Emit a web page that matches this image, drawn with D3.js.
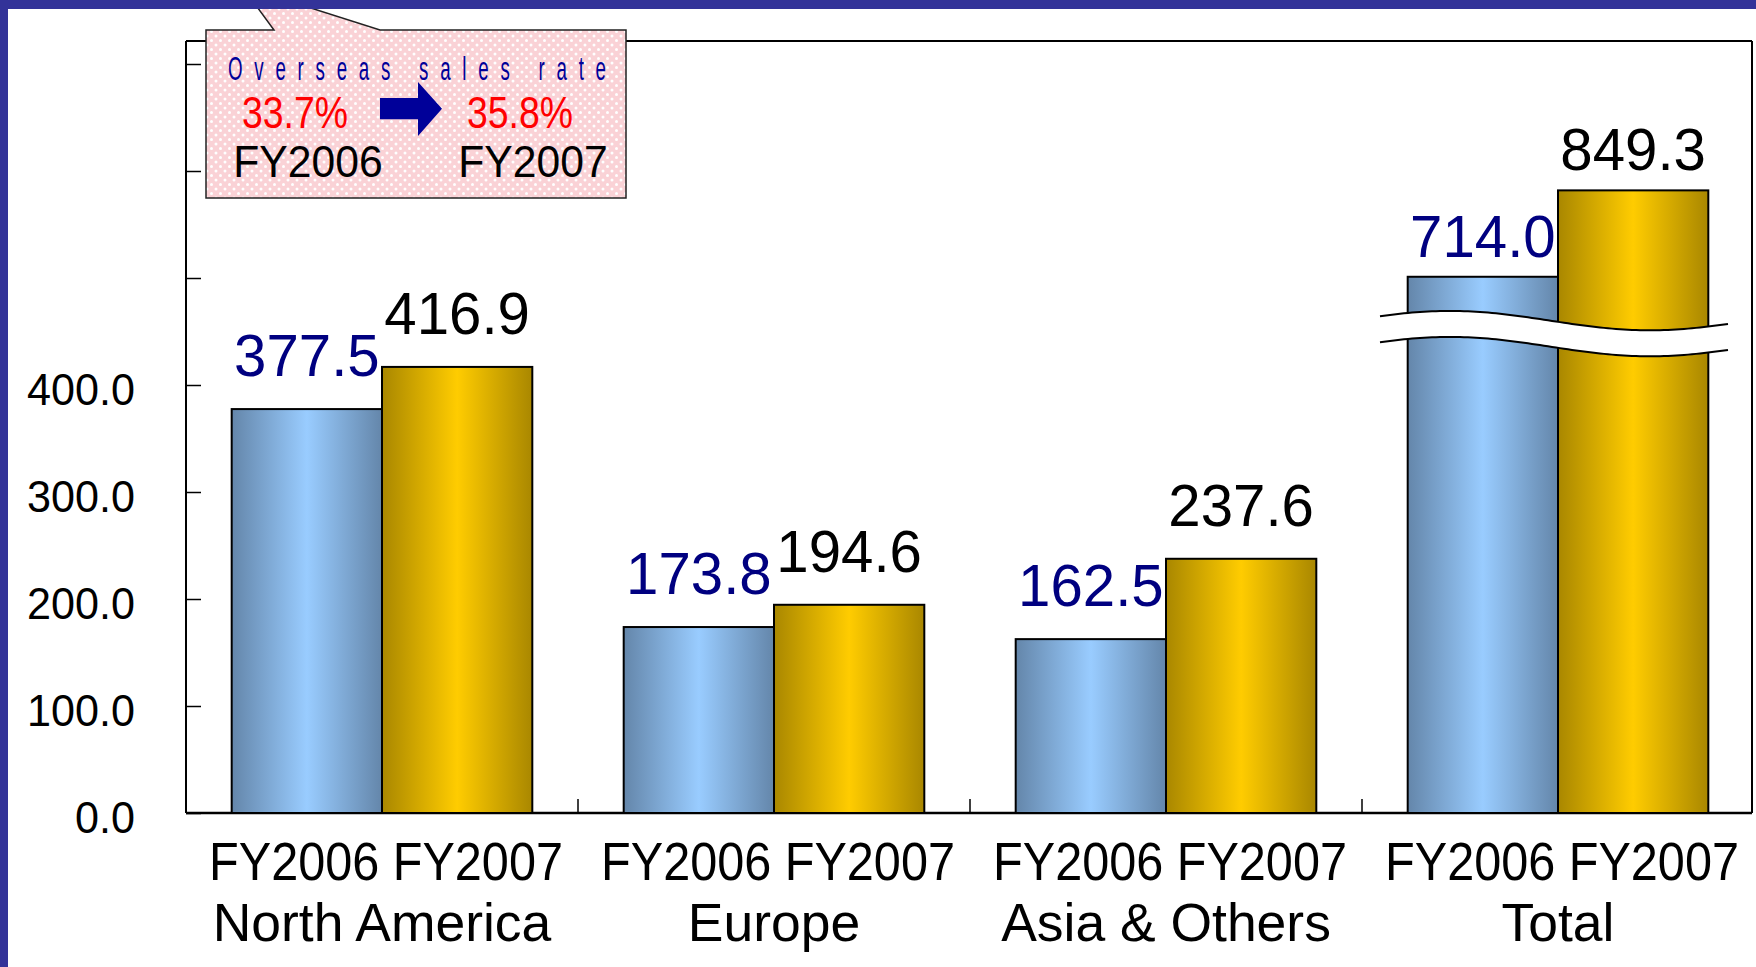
<!DOCTYPE html>
<html>
<head>
<meta charset="utf-8">
<script src="https://cdn.jsdelivr.net/npm/d3@7/dist/d3.min.js"></script>
<style>
  html, body { margin: 0; padding: 0; background: #ffffff; }
  svg { display: block; font-family: "Liberation Sans", Arial, sans-serif; }
</style>
</head>
<body>
<svg id="chart" width="1756" height="967"></svg>
<script>
// ---------------- data ----------------
const categories = ["North America", "Europe", "Asia & Others", "Total"];
const seriesNames = ["FY2006", "FY2007"];
const fy2006 = [377.5, 173.8, 162.5, 714.0];
const fy2007 = [416.9, 194.6, 237.6, 849.3];
const yTickValues = [0, 100, 200, 300, 400, 500, 600, 700];
const yTickLabels = ["0.0", "100.0", "200.0", "300.0", "400.0", "", "", ""];
const brokenCategory = "Total";
const calloutTitle = "Overseas sales rate";
const calloutRates = ["33.7%", "35.8%"];
const calloutYears = ["FY2006", "FY2007"];

// ---------------- layout ----------------
const W = 1756, H = 967;
const plot = { left: 186, right: 1754, top: 41, bottom: 813 };

const svg = d3.select("#chart");
const defs = svg.append("defs");

function grad(id, edge, mid) {
  const g = defs.append("linearGradient").attr("id", id)
    .attr("x1", "0").attr("x2", "1").attr("y1", "0").attr("y2", "0");
  g.append("stop").attr("offset", "0").attr("stop-color", edge);
  g.append("stop").attr("offset", "0.5").attr("stop-color", mid);
  g.append("stop").attr("offset", "1").attr("stop-color", edge);
}
grad("gBlue", "#6486aa", "#99ccff");
grad("gGold", "#a98700", "#ffcc00");

// callout pattern
const pat = defs.append("pattern").attr("id", "pinkPat")
  .attr("patternUnits", "userSpaceOnUse").attr("width", 9).attr("height", 9);
pat.append("rect").attr("width", 9).attr("height", 9).attr("fill", "#fad2d6");
[[0, 0], [9, 0], [0, 9], [9, 9], [4.5, 4.5]].forEach(([cx, cy]) =>
  pat.append("circle").attr("cx", cx).attr("cy", cy).attr("r", 1.5).attr("fill", "#ffffff"));

svg.append("rect").attr("width", W).attr("height", H).attr("fill", "#ffffff");

// ---------------- scales ----------------
const x0 = d3.scaleBand().domain(categories).range([plot.left, plot.right]).padding(0);
const x1 = d3.scaleBand().domain(seriesNames).range([0, x0.bandwidth()])
  .paddingInner(0).paddingOuter(0.304);
const y = d3.scaleLinear().domain([0, 721.5]).range([plot.bottom, plot.top]);
// compressed scale used above the axis break (Total group)
const yBreak = d3.scaleLinear().domain([0, 900]).range([732.7, 158]);
const yFor = c => (c === brokenCategory ? yBreak : y);

const rows = categories.map((c, i) => ({ cat: c, vals: [fy2006[i], fy2007[i]] }));

// ---------------- frame & axes ----------------
const frame = svg.append("g").attr("stroke", "#000").attr("stroke-width", 2).attr("fill", "none");
frame.append("line").attr("x1", plot.left).attr("x2", 1752).attr("y1", plot.top).attr("y2", plot.top);
frame.append("line").attr("x1", 1752).attr("x2", 1752).attr("y1", plot.top).attr("y2", plot.bottom);

// y axis (ticks inward)
const yAxis = svg.append("g").attr("transform", `translate(${plot.left},0)`)
  .call(d3.axisRight(y).tickValues(yTickValues).tickSize(15).tickFormat(""));
yAxis.select(".domain").attr("stroke", "#000").attr("stroke-width", 2)
  .attr("d", `M0,${plot.top}V${plot.bottom}`);
yAxis.selectAll(".tick line").attr("stroke", "#000").attr("stroke-width", 1.5);

// y tick labels
yTickValues.forEach((v, i) => {
  if (!yTickLabels[i]) return;
  svg.append("text")
    .attr("transform", `translate(135,${y(v) + 20}) scale(0.98,1)`)
    .attr("text-anchor", "end").attr("font-size", 44).attr("fill", "#000")
    .text(yTickLabels[i]);
});

// x axis
const xAxis = svg.append("g").attr("transform", `translate(0,${plot.bottom})`)
  .call(d3.axisTop(x0).tickValues([]).tickSizeOuter(0));
xAxis.select(".domain").attr("stroke", "#000").attr("stroke-width", 2.5)
  .attr("d", `M${plot.left},0H1752`);
categories.slice(1).forEach(c => {
  svg.append("line").attr("x1", x0(c)).attr("x2", x0(c))
    .attr("y1", plot.bottom).attr("y2", plot.bottom - 14)
    .attr("stroke", "#000").attr("stroke-width", 1.5);
});

// ---------------- bars ----------------
const groups = svg.selectAll("g.cat").data(rows).join("g").attr("class", "cat")
  .attr("transform", d => `translate(${x0(d.cat)},0)`);

groups.selectAll("rect").data(d => d.vals.map((v, j) => ({ cat: d.cat, s: seriesNames[j], v })))
  .join("rect")
  .attr("x", d => x1(d.s))
  .attr("width", x1.bandwidth())
  .attr("y", d => yFor(d.cat)(d.v))
  .attr("height", d => plot.bottom - yFor(d.cat)(d.v))
  .attr("fill", d => d.s === "FY2006" ? "url(#gBlue)" : "url(#gGold)")
  .attr("stroke", "#000").attr("stroke-width", 2);

// ---------------- axis break symbol on Total ----------------
{
  const xs = x0(brokenCategory) + 18, xe = x0(brokenCategory) + 366;
  const cy = yBreak(625);
  const half = 13, amp = 9.7, period = 400, phase = xs + 70;
  const xsArr = d3.range(xs, xe + 0.1, 4);
  const top = xsArr.map(xx => [xx, cy - half - amp * Math.cos(2 * Math.PI * (xx - phase) / period)]);
  const bot = top.map(([xx, yy]) => [xx, yy + 2 * half]);
  const line = d3.line();
  svg.append("path").attr("d", line(top.concat(bot.slice().reverse())) + "Z")
    .attr("fill", "#ffffff").attr("stroke", "none");
  svg.append("path").attr("d", line(top)).attr("fill", "none").attr("stroke", "#000").attr("stroke-width", 2);
  svg.append("path").attr("d", line(bot)).attr("fill", "none").attr("stroke", "#000").attr("stroke-width", 2);
}

// ---------------- value labels ----------------
rows.forEach(r => {
  r.vals.forEach((v, j) => {
    const s = seriesNames[j];
    const sc = yFor(r.cat);
    const gap = r.cat === brokenCategory ? 20 : 33;
    const cx = x0(r.cat) + x1(s) + x1.bandwidth() / 2;
    svg.append("text")
      .attr("transform", `translate(${cx},${sc(v) - gap}) scale(0.97,1)`)
      .attr("text-anchor", "middle").attr("font-size", 60)
      .attr("fill", j === 0 ? "#000080" : "#000000")
      .text(v.toFixed(1));
  });
});

// ---------------- category labels ----------------
categories.forEach(c => {
  const cx = x0(c) + x0.bandwidth() / 2;
  svg.append("text")
    .attr("transform", `translate(${cx + 4},880) scale(0.9,1)`)
    .attr("text-anchor", "middle").attr("font-size", 54).attr("fill", "#000")
    .text(seriesNames.join(" "));
  svg.append("text")
    .attr("transform", `translate(${cx},941) scale(0.99,1)`)
    .attr("text-anchor", "middle").attr("font-size", 54).attr("fill", "#000")
    .text(c);
});

// ---------------- callout ----------------
svg.append("path")
  .attr("d", "M206,30 L274,30 L241.6,-14 L380,30 L626,30 L626,198 L206,198 Z")
  .attr("fill", "url(#pinkPat)").attr("stroke", "#222").attr("stroke-width", 1.5);

svg.append("text")
  .attr("transform", "translate(228,80) scale(0.55,1)")
  .attr("font-size", 34).attr("fill", "#000099")
  .attr("textLength", 378 / 0.55).attr("lengthAdjust", "spacing")
  .text(calloutTitle);

const calloutCenters = [295, 520];
const yearCenters = [308, 533];
calloutRates.forEach((t, i) => {
  svg.append("text")
    .attr("transform", `translate(${calloutCenters[i]},127.5) scale(0.85,1)`)
    .attr("text-anchor", "middle").attr("font-size", 44).attr("fill", "#ff0000")
    .text(t);
  svg.append("text")
    .attr("transform", `translate(${yearCenters[i]},177) scale(0.97,1)`)
    .attr("text-anchor", "middle").attr("font-size", 44).attr("fill", "#000")
    .text(calloutYears[i]);
});

svg.append("path")
  .attr("d", "M380,98 L418,98 L418,82 L442,108.7 L418,136 L418,119.3 L380,119.3 Z")
  .attr("fill", "#000099");

// ---------------- slide frame (blue bands) ----------------
svg.append("rect").attr("x", 0).attr("y", 0).attr("width", W).attr("height", 9).attr("fill", "#333399");
svg.append("rect").attr("x", 0).attr("y", 0).attr("width", 8).attr("height", H).attr("fill", "#333399");
</script>
</body>
</html>
